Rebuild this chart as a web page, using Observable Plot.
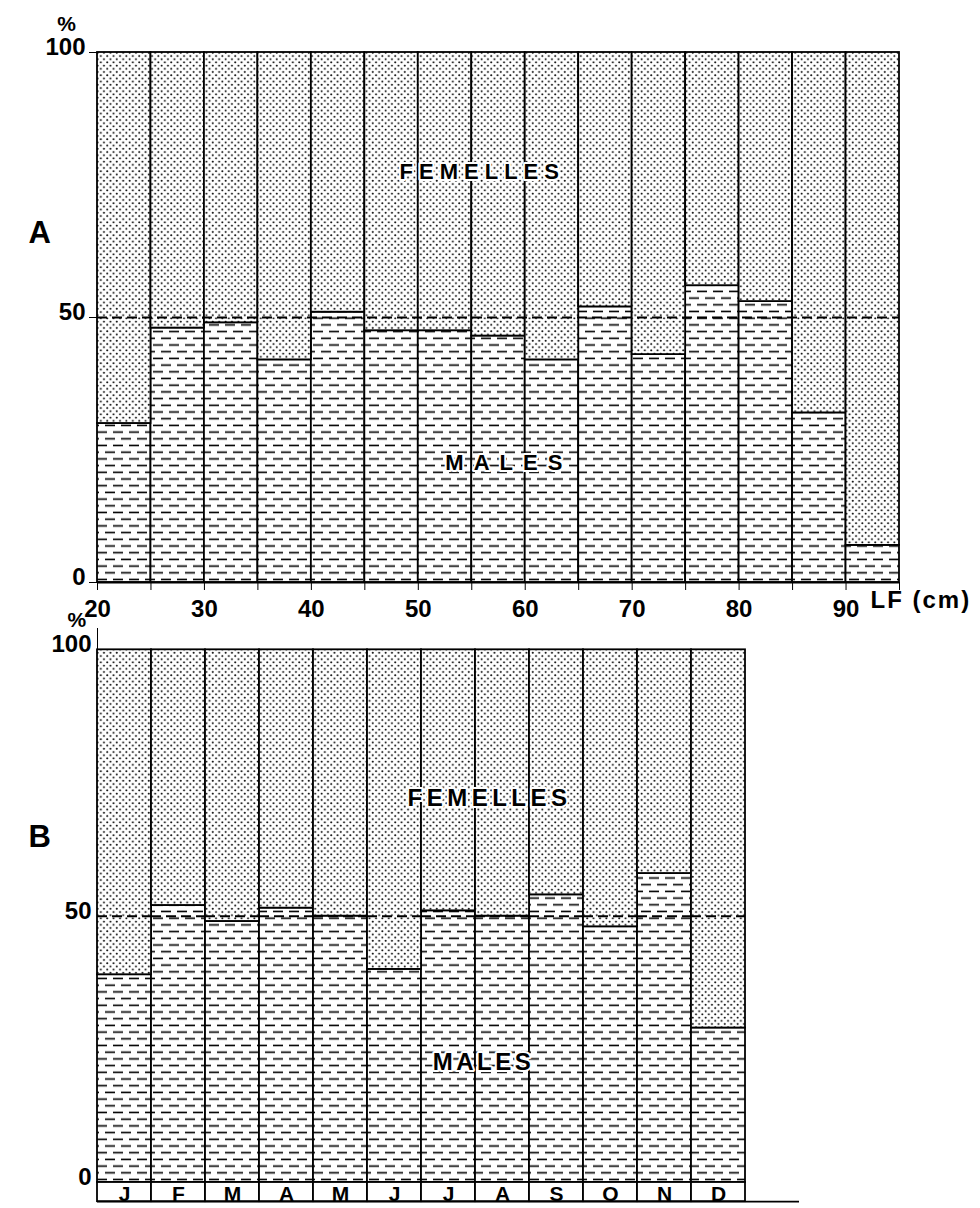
<!DOCTYPE html>
<html>
<head>
<meta charset="utf-8">
<script src="https://cdn.jsdelivr.net/npm/d3@7"></script>
<script src="https://cdn.jsdelivr.net/npm/@observablehq/plot@0.6"></script>
<style>
html, body { margin: 0; padding: 0; background: #fff; }
#wrap { position: relative; width: 980px; height: 1208px; overflow: hidden; background: #fff; }
#wrap svg { position: absolute; left: 0; }
</style>
</head>
<body>
<div id="wrap"></div>
<script>
// ---------- DATA ----------
// Panel A : sex ratio by fork length class (LF, cm)
const lenLo  = [20, 25, 30, 35, 40, 45, 50, 55, 60, 65, 70, 75, 80, 85, 90];
const lenHi  = [25, 30, 35, 40, 45, 50, 55, 60, 65, 70, 75, 80, 85, 90, 95];
const malesA = [30, 48, 49, 42, 51, 47.5, 47.5, 46.5, 42, 52, 43, 56, 53, 32, 7];
const xTicksA  = [20, 25, 30, 35, 40, 45, 50, 55, 60, 65, 70, 75, 80, 85, 90, 95];
const xLabelsA = [20, 30, 40, 50, 60, 70, 80, 90];
const yTicks = [0, 50, 100];

// Panel B : sex ratio by month
const months = ["J", "F", "M", "A", "M", "J", "J", "A", "S", "O", "N", "D"];
const malesB = [39, 52, 49, 51.5, 50, 40, 51, 50, 54, 48, 58, 29];

// ---------- TABLES ----------
const rowsA = lenLo.map((lo, i) => ({lo, hi: lenHi[i], male: malesA[i]}));
const rowsB = months.map((m, i) => ({i, m, male: malesB[i]}));

const FONT = "'Liberation Sans', Arial, Helvetica, sans-serif";
const baseStyle = {background: "none", fontFamily: FONT, fontWeight: "bold", fontSize: "24px", color: "black", overflow: "visible"};
const txt = {fontFamily: FONT, fontWeight: "bold", fill: "black", lineAnchor: "middle"};
const halo = {stroke: "white", strokeWidth: 4, paintOrder: "stroke"};
const SW = 1.8;

function addPatterns(svg, sfx) {
  const defs = d3.select(svg).insert("defs", ":first-child");
  const dot = defs.append("pattern").attr("id", "dots" + sfx)
    .attr("patternUnits", "userSpaceOnUse").attr("width", 6.4).attr("height", 6.4);
  dot.append("rect").attr("width", 6.4).attr("height", 6.4).attr("fill", "white");
  dot.append("circle").attr("cx", 1.6).attr("cy", 1.6).attr("r", 1.0).attr("fill", "black");
  dot.append("circle").attr("cx", 4.8).attr("cy", 4.8).attr("r", 1.0).attr("fill", "black");
  const dash = defs.append("pattern").attr("id", "dash" + sfx)
    .attr("patternUnits", "userSpaceOnUse").attr("width", 16).attr("height", 13.4);
  dash.append("rect").attr("width", 16).attr("height", 13.4).attr("fill", "white");
  const ln = (x1, y, x2) => dash.append("line").attr("x1", x1).attr("x2", x2).attr("y1", y).attr("y2", y)
    .attr("stroke", "black").attr("stroke-width", 1.6);
  ln(1, 3.3, 11);
  ln(9, 10, 16); ln(0, 10, 3);
}
function spaceText(svg, content, ls) {
  d3.select(svg).selectAll("text").filter(function () { return this.textContent === content; })
    .attr("letter-spacing", ls);
}
function liftYLabels(svg, px) {
  d3.select(svg).selectAll('g[aria-label="y-axis tick label"]').each(function () {
    const t = this.getAttribute("transform") || "";
    this.setAttribute("transform", (t + ` translate(0,${-px})`).trim());
  });
}

// ---------- PANEL A ----------
const svgA = Plot.plot({
  width: 980, height: 640,
  marginTop: 52, marginBottom: 58, marginLeft: 97, marginRight: 81,
  style: baseStyle,
  x: {domain: [20, 95], ticks: xTicksA, tickFormat: d => xLabelsA.includes(d) ? String(d) : "",
      tickSize: 8, tickPadding: 9, label: null},
  y: {domain: [0, 100], ticks: yTicks, tickSize: 8, tickPadding: 4, label: null},
  marks: [
    Plot.rect(rowsA, {x1: "lo", x2: "hi", y1: 0, y2: "male", fill: "url(#dashA)", stroke: "black", strokeWidth: SW}),
    Plot.rect(rowsA, {x1: "lo", x2: "hi", y1: "male", y2: 100, fill: "url(#dotsA)", stroke: "black", strokeWidth: SW}),
    Plot.ruleY([50], {strokeDasharray: "10,5", strokeWidth: 2}),
    Plot.ruleY([0], {strokeWidth: SW}),
    Plot.text(["FEMELLES"], {x: 55.7, y: 77.4, text: d => d, fontSize: 22, dx: 3, ...txt, ...halo}),
    Plot.text(["MALES"], {x: 58, y: 22.5, text: d => d, fontSize: 22, dx: 5, ...txt, ...halo}),
    Plot.text(["LF (cm)"], {x: 95, y: 0, text: d => d, fontSize: 24, dx: -29, dy: 18, textAnchor: "start", ...txt}),
    Plot.text(["%"], {x: 20, y: 100, text: d => d, fontSize: 21, dx: -31, dy: -28, ...txt}),
    Plot.text(["A"], {y: 66, frameAnchor: "left", text: d => d, fontSize: 31, dx: -69, ...txt})
  ]
});
addPatterns(svgA, "A");
spaceText(svgA, "FEMELLES", 6);
spaceText(svgA, "MALES", 10);
spaceText(svgA, "LF (cm)", 2);
liftYLabels(svgA, 5);
svgA.style.top = "0px";

// ---------- PANEL B ----------
const svgB = Plot.plot({
  width: 980, height: 608,
  marginTop: 28, marginBottom: 26, marginLeft: 97, marginRight: 181,
  style: baseStyle,
  x: {type: "band", domain: d3.range(months.length + 1), padding: 0, axis: null},
  y: {domain: [0, 104], ticks: yTicks, tickSize: 0, tickPadding: 6, line: true, label: null},
  marks: [
    Plot.barY(rowsB, {x: "i", y1: 0, y2: "male", fill: "url(#dashB)", stroke: "black", strokeWidth: SW}),
    Plot.barY(rowsB, {x: "i", y1: "male", y2: 100, fill: "url(#dotsB)", stroke: "black", strokeWidth: SW}),
    Plot.tickY(rowsB, {x: "i", y: 50, strokeDasharray: "10,5", strokeWidth: 2}),
    Plot.barY(rowsB, {x: "i", y1: 0, y2: -3.6, fill: "white", stroke: "black", strokeWidth: SW}),
    Plot.ruleY([-3.6], {strokeWidth: SW}),
    Plot.text(rowsB, {x: "i", y: -1.8, text: "m", fontSize: 21, dy: 2, ...txt}),
    Plot.text(["FEMELLES"], {x: 7, y: 72.2, text: d => d, fontSize: 24, dx: -13, ...txt, ...halo}),
    Plot.text(["MALES"], {x: 7, y: 22.5, text: d => d, fontSize: 24, dx: -19, ...txt, ...halo}),
    Plot.text(["%"], {frameAnchor: "top-left", text: d => d, fontSize: 21, dx: -30, dy: -8, ...txt}),
    Plot.text(["B"], {y: 64.8, frameAnchor: "left", text: d => d, fontSize: 31, dx: -69, ...txt})
  ]
});
addPatterns(svgB, "B");
spaceText(svgB, "FEMELLES", 4.5);
spaceText(svgB, "MALES", 3.5);
liftYLabels(svgB, 5);
svgB.style.top = "600px";

const wrap = document.getElementById("wrap");
wrap.appendChild(svgA);
wrap.appendChild(svgB);
</script>
</body>
</html>
